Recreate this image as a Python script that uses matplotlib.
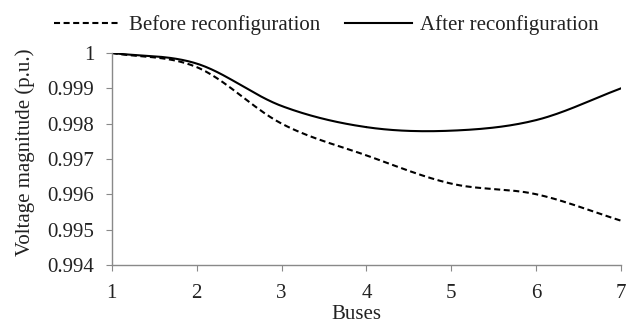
import numpy as np
from matplotlib import pyplot as plt

buses = [1, 2, 3, 4, 5, 6, 7]
before = [1.0, 0.9996, 0.9980, 0.9971, 0.9963, 0.9960, 0.99525]
after = [1.0, 0.9997, 0.9985, 0.9979, 0.9978, 0.9981, 0.9990]


def smooth(x, y, n=30):
    # Catmull-Rom style smoothing, like Excel's smoothed lines
    x = np.asarray(x, float)
    y = np.asarray(y, float)
    px = np.concatenate([[2 * x[0] - x[1]], x, [2 * x[-1] - x[-2]]])
    py = np.concatenate([[2 * y[0] - y[1]], y, [2 * y[-1] - y[-2]]])
    xs, ys = [], []
    t = np.linspace(0, 1, n)
    for i in range(1, len(px) - 2):
        for p, out in ((px, xs), (py, ys)):
            p0, p1, p2, p3 = p[i - 1], p[i], p[i + 1], p[i + 2]
            out.extend(0.5 * (2 * p1 + (-p0 + p2) * t
                              + (2 * p0 - 5 * p1 + 4 * p2 - p3) * t ** 2
                              + (-p0 + 3 * p1 - 3 * p2 + p3) * t ** 3))
    return xs, ys


plt.rcParams['font.family'] = ['Liberation Serif', 'DejaVu Serif']
fs = 15

fig = plt.figure(figsize=(6.28, 3.27), dpi=100)
ax = fig.add_axes([0.178, 0.19, 0.811, 0.648])

bx, by = smooth(buses, before)
axx, ayy = smooth(buses, after)
ax.plot(bx, by, color='black', linestyle=(0, (2.9, 1.7)), linewidth=1.5,
        label='Before reconfiguration')
ax.plot(axx, ayy, color='black', linewidth=1.5, label='After reconfiguration')

ax.set_xlim(1, 7)
ax.set_ylim(0.994, 1.0)
ax.set_xticks(buses)
ax.set_yticks([0.994, 0.995, 0.996, 0.997, 0.998, 0.999, 1.0])
ax.set_yticklabels(['0.994', '0.995', '0.996', '0.997', '0.998', '0.999', '1'])
ax.tick_params(labelsize=fs, color='#898989', length=4, labelcolor='#222222')
ax.tick_params(axis='x', pad=10)
ax.tick_params(axis='y', pad=8.5)
for s in ['top', 'right']:
    ax.spines[s].set_visible(False)
for s in ['left', 'bottom']:
    ax.spines[s].set_color('#898989')
    ax.spines[s].set_linewidth(1.0)
ax.set_xlabel('Buses', fontsize=fs, color='#222222')
ax.set_ylabel('Voltage magnitude (p.u.)', fontsize=fs, color='#222222')
ax.xaxis.set_label_coords(0.568, 0.068, transform=fig.transFigure)
ax.yaxis.set_label_coords(0.056, 0.535, transform=fig.transFigure)

fig.legend(loc='upper center', bbox_to_anchor=(0.52, 1.01), ncol=2, frameon=False,
           fontsize=fs, handlelength=3.2, columnspacing=1.2, handletextpad=0.4,
           labelcolor='#222222')

plt.savefig('out.png', dpi=100)
